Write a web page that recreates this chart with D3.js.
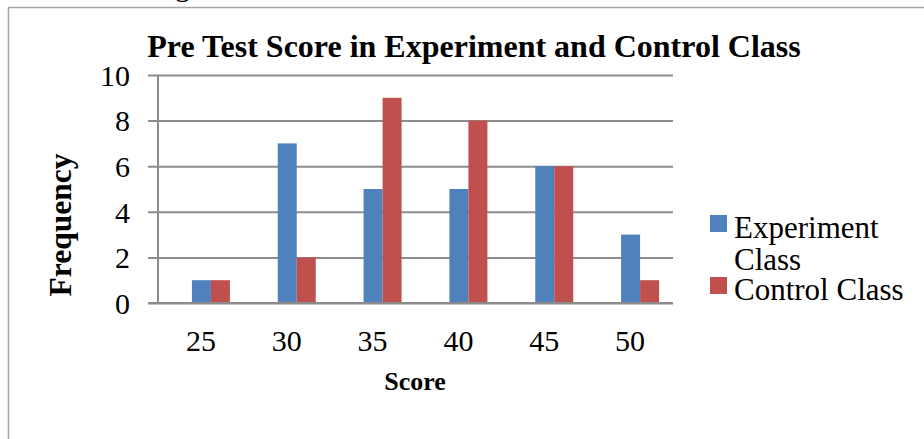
<!DOCTYPE html>
<html>
<head>
<meta charset="utf-8">
<script src="https://cdn.jsdelivr.net/npm/d3@7"></script>
<style>
  body { margin: 0; background: #fff; }
  svg { display: block; font-family: "Liberation Serif", "Times New Roman", serif; }
</style>
</head>
<body>
<svg width="924" height="439"></svg>
<script>
// chart data
let scores = ['25', '30', '35', '40', '45', '50'];
let experiment = [1, 7, 5, 5, 6, 3];
let control = [1, 2, 9, 8, 6, 1];
let seriesNames = ['Experiment Class', 'Control Class'];
let yTicks = [0, 2, 4, 6, 8, 10];

let colors = ['#4F81BD', '#C0504D'];

let svg = d3.select('svg');

// frame round the chart
svg.append('rect')
   .attr('x', 8.5)
   .attr('y', 7.5)
   .attr('width', 940)
   .attr('height', 450)
   .attr('fill', 'none')
   .attr('stroke', '#a6a6a6')
   .attr('stroke-width', 1.5);

// cut off caption line above the frame
svg.append('text')
   .attr('x', 175)
   .attr('y', -4)
   .style('font-size', '30px')
   .text('g');

let xScale = d3.scaleBand()
               .domain(scores)
               .range([158, 673]);

let yScale = d3.scaleLinear()
               .domain([0, 10])
               .range([303, 75]);

let barWidth = 19;
let barShift = 10;

// gridlines with ticks out to the left
let yAxis = d3.axisLeft(yScale)
              .tickValues(yTicks)
              .tickSize(-(673 - 148))
              .tickPadding(18)
              .tickFormat(d3.format('d'));

let yAxisG = svg.append('g')
                .attr('id', 'yAxisG')
                .attr('transform', 'translate(148,0)')
                .call(yAxis);

yAxisG.select('.domain').remove();
yAxisG.selectAll('line')
      .attr('stroke', '#8c8c8c')
      .attr('stroke-width', 2);
yAxisG.selectAll('text')
      .attr('x', -18)
      .attr('dy', '0.34em')
      .style('font-family', '"Liberation Serif", serif')
      .style('font-size', '30px')
      .attr('fill', '#000');

// vertical axis line
svg.append('line')
   .attr('x1', 158)
   .attr('x2', 158)
   .attr('y1', yScale(10))
   .attr('y2', yScale(0))
   .attr('stroke', '#8c8c8c')
   .attr('stroke-width', 2);

let xAxis = d3.axisBottom(xScale)
              .tickSize(0)
              .tickPadding(0);

let xAxisG = svg.append('g')
                .attr('id', 'xAxisG')
                .attr('transform', 'translate(0,' + yScale(0) + ')')
                .call(xAxis);

xAxisG.select('.domain').remove();
xAxisG.selectAll('text')
      .attr('y', 48)
      .attr('dy', 0)
      .style('font-family', '"Liberation Serif", serif')
      .style('font-size', '30px')
      .attr('fill', '#000');

// bars
let allSeries = [experiment, control];
allSeries.forEach(function(values, s) {
  svg.append('g')
     .selectAll('rect')
     .data(values)
     .enter()
     .append('rect')
     .attr('x', function(d, i) {
       return xScale(scores[i]) + xScale.bandwidth() / 2 + barShift - barWidth + s * barWidth;
     })
     .attr('y', function(d) { return yScale(d); })
     .attr('width', barWidth)
     .attr('height', function(d) { return yScale(0) - yScale(d); })
     .attr('fill', colors[s]);
});

// redraw the base line over the bars
svg.append('line')
   .attr('x1', 148)
   .attr('x2', 673)
   .attr('y1', yScale(0))
   .attr('y2', yScale(0))
   .attr('stroke', '#8c8c8c')
   .attr('stroke-width', 2);

// title
svg.append('text')
   .attr('x', 474)
   .attr('y', 57)
   .attr('text-anchor', 'middle')
   .style('font-size', '32px')
   .style('font-weight', 'bold')
   .text('Pre Test Score in Experiment and Control Class');

// axis titles
svg.append('text')
   .attr('x', 415)
   .attr('y', 390)
   .attr('text-anchor', 'middle')
   .style('font-size', '26px')
   .style('font-weight', 'bold')
   .text('Score');

svg.append('text')
   .attr('transform', 'translate(71,225) rotate(-90)')
   .attr('text-anchor', 'middle')
   .style('font-size', '31.5px')
   .style('font-weight', 'bold')
   .text('Frequency');

// legend
let legendLines = [['Experiment', 'Class'], ['Control Class']];
let legendTop = [238, 300];

legendLines.forEach(function(lines, s) {
  svg.append('rect')
     .attr('x', 710)
     .attr('y', legendTop[s] - 23)
     .attr('width', 17)
     .attr('height', 17)
     .attr('fill', colors[s]);

  svg.append('text')
     .attr('x', 734)
     .attr('y', legendTop[s])
     .style('font-size', '31px')
     .selectAll('tspan')
     .data(lines)
     .enter()
     .append('tspan')
     .attr('x', 734)
     .attr('dy', function(d, i) { return i == 0 ? 0 : 32; })
     .text(function(d) { return d; });
});
</script>
</body>
</html>
